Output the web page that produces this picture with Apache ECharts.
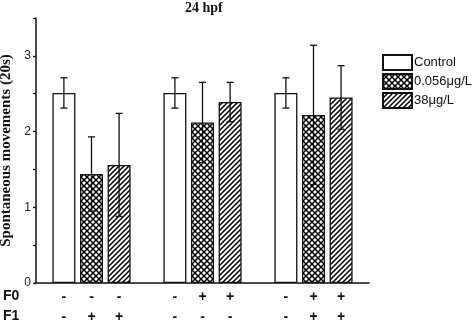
<!DOCTYPE html>
<html><head><meta charset="utf-8">
<script src="https://cdn.jsdelivr.net/npm/echarts@6/dist/echarts.min.js"></script>
<style>html,body{margin:0;padding:0;background:#fff}#c{width:474px;height:323px}</style>
</head><body><div id="c"></div>
<script>
const groups = ['G1', 'G2', 'G3'];
const seriesNames = ['Control', '0.056μg/L', '38μg/L'];
const controlVals = [2.51, 2.51, 2.51];
const controlErr = [0.2, 0.2, 0.2];
const lowVals = [1.44, 2.12, 2.22];
const lowErr = [0.49, 0.53, 0.92];
const highVals = [1.56, 2.39, 2.45];
const highErr = [0.68, 0.26, 0.42];
const f0Signs = [['-', '-', '-'], ['-', '+', '+'], ['-', '+', '+']]; // [series][group]
const f1Signs = [['-', '-', '-'], ['+', '-', '+'], ['+', '-', '+']];
const yTicks = [0, 1, 2, 3];

function makePattern(type) {
  const s = type === 'cross' ? 6 : 5;
  const c = document.createElement('canvas');
  c.width = s; c.height = s;
  const g = c.getContext('2d');
  g.fillStyle = '#fff'; g.fillRect(0, 0, s, s);
  g.strokeStyle = '#000'; g.lineWidth = 1.5;
  g.beginPath();
  if (type === 'cross') {
    g.moveTo(-1, -1); g.lineTo(s + 1, s + 1);
    g.moveTo(s + 1, -1); g.lineTo(-1, s + 1);
  } else {
    g.moveTo(-1, s + 1); g.lineTo(s + 1, -1);
    g.moveTo(-1, 1); g.lineTo(1, -1);
    g.moveTo(s - 1, s + 1); g.lineTo(s + 1, s - 1);
  }
  g.stroke();
  return c;
}

const chart = echarts.init(document.getElementById('c'), null, {renderer: 'canvas'});
const vals = [controlVals, lowVals, highVals];
const errs = [controlErr, lowErr, highErr];
const fills = ['#fff', {image: makePattern('cross'), repeat: 'repeat'}, {image: makePattern('hatch'), repeat: 'repeat'}];
const BW = 23, GAP = 4.6;

const series = [];
vals.forEach((v, i) => {
  series.push({
    name: seriesNames[i], type: 'bar', data: v, barWidth: BW, barGap: '20%',
    itemStyle: {color: fills[i], borderColor: '#111', borderWidth: 1.3},
    label: {
      show: true, position: 'bottom', distance: 4,
      formatter: p => f0Signs[i][p.dataIndex] + '\n' + f1Signs[i][p.dataIndex],
      fontFamily: 'Liberation Sans', fontWeight: 'bold', fontSize: 14, lineHeight: 20, color: '#111'
    },
    emphasis: {disabled: true}, z: 2
  });
});
vals.forEach((v, i) => {
  series.push({
    type: 'custom', silent: true, z: 5,
    data: v.map((m, j) => [j, m, errs[i][j]]),
    renderItem: (params, api) => {
      const top = api.coord([api.value(0), api.value(1) + api.value(2)]);
      const bot = api.coord([api.value(0), api.value(1) - api.value(2)]);
      const x = top[0] + (i - 1) * (BW + GAP);
      const hw = 3.5;
      const st = {stroke: '#111', lineWidth: 1.3};
      return {type: 'group', children: [
        {type: 'line', shape: {x1: x, y1: top[1], x2: x, y2: bot[1]}, style: st},
        {type: 'line', shape: {x1: x - hw, y1: top[1], x2: x + hw, y2: top[1]}, style: st},
        {type: 'line', shape: {x1: x - hw, y1: bot[1], x2: x + hw, y2: bot[1]}, style: st}
      ]};
    }
  });
});

chart.setOption({
  animation: false,
  backgroundColor: '#fff',
  grid: {left: 36, right: 105, top: 18, bottom: 40, containLabel: false, outerBoundsMode: 'none'},
  legend: {
    data: seriesNames, orient: 'vertical', left: 377, top: 49,
    icon: 'rect', itemWidth: 29, itemHeight: 15, itemGap: 2,
    textStyle: {fontFamily: 'Liberation Sans', fontSize: 13, color: '#111', padding: [0, 0, 0, -3]},
    selectedMode: false
  },
  graphic: [
    {type: 'text', left: 185, top: 1, style: {text: '24 hpf', font: 'bold 14px "Liberation Serif"', fill: '#111'}},
    {type: 'text', left: 3, top: 289, style: {text: 'F0', font: 'bold 14px "Liberation Sans"', fill: '#111'}},
    {type: 'text', left: 3, top: 309, style: {text: 'F1', font: 'bold 14px "Liberation Sans"', fill: '#111'}}
  ],
  xAxis: {
    type: 'category', data: groups,
    axisLine: {lineStyle: {color: '#111', width: 1.5}},
    axisTick: {show: false}, axisLabel: {show: false}
  },
  yAxis: {
    type: 'value', min: 0, max: 3.5, interval: 0.5,
    name: 'Spontaneous movements (20s)', nameLocation: 'middle', nameGap: 18, nameRotate: 90,
    nameTextStyle: {fontFamily: 'Liberation Serif', fontWeight: 'bold', fontSize: 15, color: '#111'},
    axisLine: {show: true, lineStyle: {color: '#111', width: 1.5}},
    axisTick: {show: true, inside: false, length: 3, lineStyle: {color: '#111', width: 1.3}},
    axisLabel: {
      fontFamily: 'Liberation Sans', fontSize: 12, color: '#222', margin: 5,
      formatter: v => yTicks.includes(v) ? String(v) : ''
    },
    splitLine: {show: false}
  },
  series
});
</script></body></html>
